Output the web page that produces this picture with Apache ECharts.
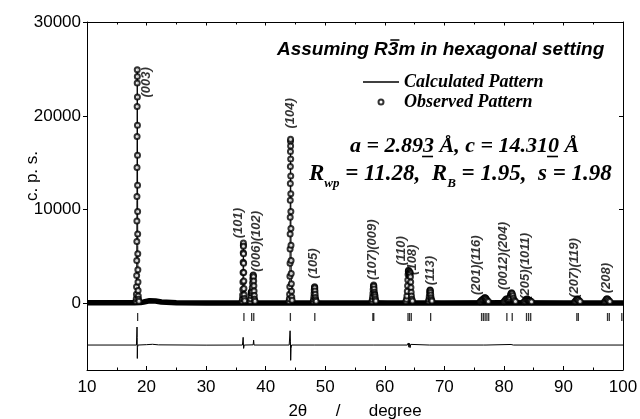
<!DOCTYPE html>
<html><head><meta charset="utf-8">
<script src="https://cdn.jsdelivr.net/npm/echarts@6/dist/echarts.min.js"></script>
<style>html,body{margin:0;padding:0;background:#fff}#c{width:640px;height:419px}</style>
</head><body><div id="c"></div>
<script>
// ---------- data ----------
const yTickValues = [0, 10000, 20000, 30000];

// observed pattern: points on the reflections (2theta, c.p.s.)
const observedPeaks = [
 [18.22,250],[18.27,500],[18.30,1000],[18.32,1800],[18.34,3000],[18.355,4600],[18.37,6600],[18.38,8800],[18.39,11400],[18.40,14500],[18.41,17800],[18.42,21000],[18.43,23500],[18.44,24900],[18.45,24200],[18.46,22000],[18.47,19000],[18.48,15800],[18.49,12600],[18.50,9800],[18.51,7400],[18.525,5300],[18.54,3600],[18.56,2300],[18.58,1400],[18.61,800],[18.65,450],[18.72,250],
 [36.05,250],[36.10,500],[36.13,900],[36.16,1500],[36.18,2300],[36.20,3300],[36.22,4400],[36.235,5400],[36.25,6200],[36.26,6450],[36.27,6100],[36.285,5300],[36.30,4300],[36.315,3300],[36.33,2400],[36.35,1600],[36.38,950],[36.42,550],[36.48,300],
 [37.40,250],[37.47,500],[37.52,850],[37.56,1150],[37.60,1250],[37.64,1150],[37.68,1100],[37.72,1300],[37.76,1700],[37.80,2200],[37.84,2650],[37.88,2950],[37.92,3030],[37.96,2850],[37.99,2400],[38.02,1900],[38.05,1350],[38.09,850],[38.14,450],[38.22,250],
 [43.92,250],[43.98,500],[44.02,1000],[44.05,1800],[44.07,2900],[44.09,4300],[44.10,5800],[44.11,7400],[44.12,9200],[44.13,11000],[44.14,12800],[44.15,14600],[44.16,16200],[44.17,17300],[44.18,17500],[44.19,16800],[44.20,15400],[44.21,13600],[44.22,11700],[44.23,9800],[44.24,8000],[44.255,6200],[44.27,4600],[44.29,3200],[44.31,2100],[44.34,1300],[44.38,700],[44.44,350],
 [48.00,250],[48.06,450],[48.10,750],[48.13,1100],[48.16,1450],[48.19,1700],[48.22,1790],[48.25,1650],[48.28,1350],[48.31,1000],[48.35,650],[48.40,400],[48.48,250],
 [57.85,250],[57.92,450],[57.97,750],[58.01,1100],[58.05,1500],[58.09,1850],[58.13,1970],[58.17,1850],[58.21,1550],[58.25,1200],[58.29,1000],[58.33,900],[58.37,700],[58.42,450],[58.50,280],
 [63.55,250],[63.65,450],[63.72,800],[63.78,1300],[63.83,1900],[63.87,2500],[63.91,3100],[63.95,3450],[63.99,3560],[64.03,3450],[64.07,3200],[64.11,3000],[64.15,3050],[64.19,3250],[64.23,3350],[64.27,3200],[64.31,2850],[64.35,2300],[64.39,1700],[64.43,1200],[64.48,800],[64.55,450],[64.65,260],
 [67.35,250],[67.42,450],[67.47,750],[67.52,1100],[67.56,1350],[67.60,1440],[67.64,1380],[67.68,1180],[67.72,900],[67.77,620],[67.83,400],[67.92,260],
 [76.00,200],[76.15,280],[76.30,380],[76.45,430],[76.60,520],[76.75,610],[76.85,620],[76.95,560],[77.05,450],[77.20,320],[77.40,220],
 [80.00,200],[80.15,300],[80.30,430],[80.45,500],[80.60,450],[80.75,420],[80.90,500],[81.00,680],[81.10,900],[81.20,1080],[81.30,1150],[81.40,1050],[81.50,820],[81.60,560],[81.75,340],[81.95,220],
 [83.40,200],[83.55,280],[83.70,420],[83.85,480],[84.00,450],[84.15,390],[84.30,330],[84.45,260],[84.65,200],
 [91.90,200],[92.05,280],[92.20,420],[92.32,480],[92.45,430],[92.60,320],[92.80,210],
 [96.90,200],[97.05,290],[97.20,450],[97.32,520],[97.45,460],[97.60,330],[97.80,210]
];

// observed pattern: dense background points (drawn as the solid band)
const observedBackground = [
 [10,80],[15,80],[18,90],[19,110],[19.5,170],[20.5,300],[21.5,270],[22.5,160],[25,90],[30,50],[35,50],[40,60],[50,60],[60,60],[70,60],[80,80],[90,70],[100,70]
];

// calculated pattern
const calculatedPattern = [
 [10,80],[15,80],[18.0,90],[18.2,200],[18.30,900],[18.35,3800],[18.39,11000],[18.42,21500],[18.44,25100],[18.46,22300],[18.49,12600],[18.52,6200],[18.56,2400],[18.62,700],[18.72,250],[19.0,110],[19.5,170],[20.5,300],[21.5,270],[22.5,160],[25,90],[30,50],[35,50],
 [36.0,120],[36.12,700],[36.18,2300],[36.23,4900],[36.26,6450],[36.29,5000],[36.33,2400],[36.38,950],[36.48,300],[36.8,70],
 [37.30,120],[37.40,250],[37.52,850],[37.60,1250],[37.68,1100],[37.76,1700],[37.84,2650],[37.92,3030],[37.99,2400],[38.05,1350],[38.14,450],[38.3,150],[40,60],
 [43.85,120],[44.02,1000],[44.07,2900],[44.10,5800],[44.13,11000],[44.16,16200],[44.18,17500],[44.20,15400],[44.23,9800],[44.27,4600],[44.31,2100],[44.38,700],[44.5,200],[46,60],
 [47.95,120],[48.06,450],[48.13,1100],[48.19,1700],[48.22,1790],[48.28,1350],[48.35,650],[48.48,250],[48.7,70],[55,60],
 [57.8,120],[57.92,450],[58.01,1100],[58.09,1850],[58.13,1970],[58.21,1550],[58.29,1000],[58.37,700],[58.50,280],[58.7,80],
 [63.5,120],[63.65,450],[63.78,1300],[63.87,2500],[63.95,3450],[63.99,3560],[64.07,3200],[64.11,3000],[64.19,3250],[64.23,3350],[64.31,2850],[64.39,1700],[64.48,800],[64.65,260],[64.9,80],
 [67.3,120],[67.42,450],[67.52,1100],[67.60,1440],[67.68,1180],[67.77,620],[67.92,260],[68.2,70],[75,70],
 [75.8,120],[76.15,280],[76.45,430],[76.75,610],[76.85,620],[77.05,450],[77.40,220],[78,90],
 [79.8,120],[80.15,300],[80.45,500],[80.75,420],[81.00,680],[81.20,1080],[81.30,1150],[81.50,820],[81.75,340],[82.1,100],
 [83.2,110],[83.55,280],[83.85,480],[84.15,390],[84.45,260],[84.8,100],[88,70],
 [91.7,100],[92.05,280],[92.32,480],[92.60,320],[92.9,100],
 [96.7,100],[97.05,290],[97.32,520],[97.60,330],[97.95,100],[100,70]
];

// difference curve (as plotted, shifted below zero)
const differenceCurve = [
 [10,-4420],[18.30,-4420],[18.36,-4300],[18.40,-2500],[18.43,-3600],[18.45,-5850],[18.48,-4700],[18.55,-4420],[20,-4380],[21,-4340],[22,-4400],[30,-4430],
 [36.1,-4420],[36.22,-3600],[36.30,-4780],[36.40,-4420],[37.9,-4400],[37.98,-3900],[38.05,-4420],
 [43.95,-4420],[44.10,-2900],[44.16,-4000],[44.20,-6050],[44.26,-4800],[44.35,-4420],
 [48.15,-4420],[48.22,-4600],[48.3,-4420],[58.05,-4420],[58.12,-4250],[58.2,-4470],[58.3,-4420],
 [63.8,-4420],[63.95,-4200],[64.05,-4650],[64.15,-4250],[64.25,-4700],[64.35,-4350],[64.5,-4420],
 [67.5,-4420],[67.6,-4550],[67.7,-4350],[67.8,-4420],[76.6,-4420],[76.8,-4500],[77.0,-4420],
 [81.2,-4360],[81.4,-4480],[81.6,-4420],[100,-4420]
];

// Bragg reflection positions (2theta)
const braggPositions = [18.5,36.35,37.65,38.0,44.15,48.25,58.0,58.15,63.9,64.15,64.45,67.7,76.25,76.55,76.85,77.15,77.45,80.5,81.4,83.8,84.15,84.5,92.25,92.5,97.4,97.7,99.8];

// hkl annotations and where each starts (2theta, c.p.s.)
const hklLabels = ['(003)','(101)','(006)(102)','(104)','(105)','(107)(009)','(110)','(108)','(113)','(201)(116)','(0012)(204)','(205)(1011)','(207)(119)','(208)'];
const hklAnchors = [[20.0,21950],[35.5,6950],[38.5,3400],[44.15,18650],[48.1,2650],[58.0,2500],[62.8,4050],[64.6,3050],[67.65,1950],[75.4,900],[79.85,1450],[83.65,400],[91.8,600],[97.2,1100]];

// ---------- chart ----------
const Y_MIN = -7080, Y_MAX = 30000, BRAGG_Y = -1430;
const chart = echarts.init(document.getElementById('c'));
const black = '#000';
const sans = 'Liberation Sans', serif = 'Liberation Serif';

const mctx = document.createElement('canvas').getContext('2d');
function tw(t, font){ mctx.font = font; return mctx.measureText(t).width; }

const graphics = [];
// y-axis title
graphics.push({type:'text', x:32, y:176, rotation:Math.PI/2, style:{text:'c. p. s.', font:'17px "'+sans+'"', fill:black, align:'center', verticalAlign:'middle'}});
// title with R-3m
const tFont = 'italic bold 19px "'+sans+'"';
const tX = 277, tY = 50;
graphics.push({type:'text', x:tX, y:tY, style:{text:'Assuming R3m in hexagonal setting', font:tFont, fill:black, align:'left', verticalAlign:'middle'}});
{
  const x0 = tX + tw('Assuming R', tFont) + 2.5, w3 = tw('3', tFont) - 1.5;
  graphics.push({type:'line', shape:{x1:x0, y1:tY-10, x2:x0+w3, y2:tY-10}, style:{stroke:black, lineWidth:1.5}});
}
// lattice parameters with underlined digits
const aFont = 'italic bold 22px "'+serif+'"';
const aX = 350, aY = 146, aText = 'a = 2.893 Å, c = 14.310 Å';
graphics.push({type:'text', x:aX, y:aY, style:{text:aText, font:aFont, fill:black, align:'left', verticalAlign:'middle'}});
[['a = 2.89','3'],['a = 2.893 Å, c = 14.31','0']].forEach(([pre,ch])=>{
  const x0 = aX + tw(pre, aFont) - 1, w = tw(ch, aFont);
  graphics.push({type:'line', shape:{x1:x0, y1:aY+10.5, x2:x0+w, y2:aY+10.5}, style:{stroke:black, lineWidth:1.6}});
});
// R factors with subscripts
const mFont = 'italic bold 23px "'+serif+'"', sFont = 'italic bold 13px "'+serif+'"';
const segs = [['R',mFont,0],['wp',sFont,10],[' = 11.28,  R',mFont,0],['B',sFont,10],[' = 1.95,  s = 1.98',mFont,0]];
{
  let x = 309; const y = 174;
  segs.forEach(([t,f,dy])=>{
    graphics.push({type:'text', x:x, y:y+dy, style:{text:t, font:f, fill:black, align:'left', verticalAlign:'middle'}});
    x += tw(t,f);
  });
}

const option = {
  animation:false,
  backgroundColor:'#fff',
  grid:{left:87, right:17, top:22, bottom:49, containLabel:false, outerBoundsMode:'none'},
  legend:{
    data:[
      {name:'Calculated Pattern', icon:'path://M0,0L40,0L40,1.6L0,1.6Z', itemStyle:{color:black}},
      {name:'Observed Pattern', icon:'emptyCircle', itemStyle:{color:black, borderColor:black, borderWidth:1}}
    ],
    orient:'vertical', left:363, top:72, padding:0, itemGap:0,
    itemWidth:36, itemHeight:5,
    textStyle:{fontFamily:serif, fontStyle:'italic', fontWeight:'bold', fontSize:18, color:black, lineHeight:20}
  },
  xAxis:[
    {type:'value', min:10, max:100, interval:10, position:'bottom',
     axisLine:{onZero:false, lineStyle:{color:black, width:1}},
     axisTick:{inside:true, length:4, lineStyle:{color:black}},
     minorTick:{show:true, splitNumber:2, length:2.5, lineStyle:{color:black}},
     splitLine:{show:false}, minorSplitLine:{show:false},
     axisLabel:{color:black, fontSize:17, fontFamily:sans, margin:9, formatter:v=>String(v)},
     name:'2θ      /      degree', nameLocation:'middle', nameGap:33,
     nameTextStyle:{color:black, fontSize:17, fontFamily:sans}},
    {type:'value', min:10, max:100, interval:10, position:'top',
     axisLine:{onZero:false, lineStyle:{color:black, width:1}},
     axisTick:{inside:true, length:3.5, lineStyle:{color:black}},
     minorTick:{show:true, splitNumber:2, length:2.5, lineStyle:{color:black}},
     splitLine:{show:false}, minorSplitLine:{show:false}, axisLabel:{show:false}}
  ],
  yAxis:[
    {type:'value', min:Y_MIN, max:Y_MAX, position:'left',
     axisLine:{show:true, onZero:false, lineStyle:{color:black, width:1}},
     axisTick:{show:true, inside:false, length:4, customValues:yTickValues, lineStyle:{color:black}},
     axisLabel:{customValues:yTickValues, color:black, fontSize:17, fontFamily:sans, margin:6, formatter:v=>String(v)},
     splitLine:{show:false}},
    {type:'value', min:Y_MIN, max:Y_MAX, position:'right',
     axisLine:{show:true, onZero:false, lineStyle:{color:black, width:1}},
     axisTick:{show:true, inside:true, length:4, customValues:yTickValues, lineStyle:{color:black}},
     axisLabel:{show:false, customValues:yTickValues},
     splitLine:{show:false}}
  ],
  series:[
    {type:'line', name:'background', data:observedBackground, symbol:'none', silent:true,
     lineStyle:{color:black, width:5.5}, z:1},
    {type:'line', name:'Calculated Pattern', data:calculatedPattern, symbol:'none',
     lineStyle:{color:black, width:1}, itemStyle:{color:black}, z:2},
    {type:'scatter', name:'Observed Pattern', data:observedPeaks, symbol:'emptyCircle', symbolSize:5,
     itemStyle:{color:black, borderColor:black, borderWidth:1}, z:3},
    {type:'line', name:'difference', data:differenceCurve, symbol:'none',
     lineStyle:{color:black, width:1}, z:2},
    {type:'scatter', name:'bragg', data:braggPositions.map(v=>[v,BRAGG_Y]), symbol:'rect', symbolSize:[1.3,8],
     itemStyle:{color:black}, z:2},
    {type:'scatter', name:'hkl', data:hklLabels.map((n,i)=>({name:n, value:hklAnchors[i]})),
     symbolSize:1, itemStyle:{color:'rgba(0,0,0,0)'}, z:4,
     label:{show:true, position:'inside', rotate:90, align:'left', verticalAlign:'middle',
       formatter:p=>p.name, color:black, fontFamily:sans, fontStyle:'italic', fontWeight:'bold', fontSize:13}}
  ],
  graphic:graphics
};
chart.setOption(option);
</script>
</body></html>
